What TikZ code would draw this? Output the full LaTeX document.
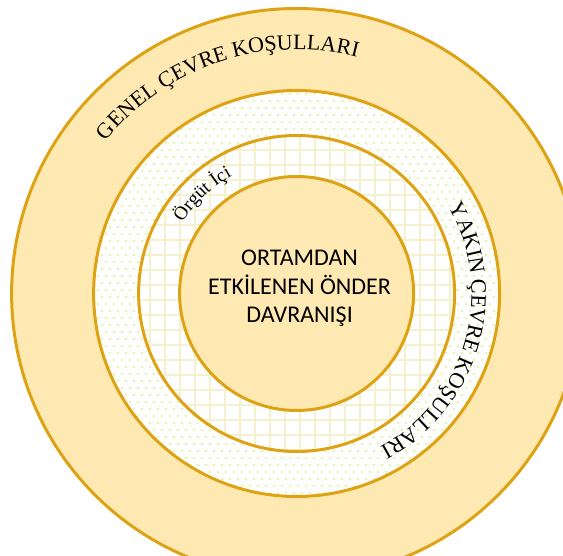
\documentclass[tikz,border=0pt]{standalone}
\usepackage{fontspec}
\setmainfont{Liberation Serif}
\newfontfamily\carlito{Carlito}
\usetikzlibrary{decorations.text}
\definecolor{ringgold}{RGB}{221,163,20}
\definecolor{ringfill}{RGB}{255,233,178}
\definecolor{gridyellow}{RGB}{243,241,206}
\definecolor{dotgreen}{RGB}{228,243,160}

\begin{document}
\begin{tikzpicture}[x=1pt,y=1pt,
  ring/.style={circle,draw=ringgold,line width=3,inner sep=0pt},
  arctext/.style={decorate,decoration={text along path,text align=center,text={#1}}}
]
  \useasboundingbox (0,0) rectangle (563,555);
  \coordinate (C) at (296.6,261.5);
  % backgrounds of the rings
  \fill[ringfill] (C) circle (285);
  \fill[white] (C) circle (203);
  \begin{scope}
    \clip (C) circle (203);
    \foreach \i in {0,...,59}
      \foreach \j in {0,...,51}
        \fill[dotgreen] ({90+\j*8+mod(\i,2)*4},{55+\i*7}) circle (1.3);
  \end{scope}
  \fill[white] (C) circle (158);
  \begin{scope}
    \clip (C) circle (158);
    \draw[gridyellow,line width=2] (130,95) grid[step=15] (465,430);
  \end{scope}
  % circles
  \node[ring,minimum size=570] (genel) at (C) {};
  \node[ring,minimum size=406] (yakin) at (C) {};
  \node[ring,minimum size=316] (orgut) at (C) {};
  \node[ring,fill=ringfill,minimum size=234] (onder) at (C) {};
  \node[font=\carlito\fontsize{24}{28.3}\selectfont,align=center] (onderyazi)
    at ([shift={(3,5)}]C) {ORTAMDAN\\ETKİLENEN ÖNDER\\DAVRANIŞI};
  % curved labels
  \path[arctext={|\fontsize{22}{26}\selectfont|GENEL ÇEVRE KOŞULLARI}]
    ([shift={(141:244)}]C) arc[start angle=141,end angle=76,radius=244];
  \path[arctext={|\fontsize{22}{26}\selectfont|YAKIN ÇEVRE KOŞULLARI}]
    ([shift={(31:175)}]C) arc[start angle=31,end angle=-63,radius=175];
  \path[arctext={|\fontsize{19}{22}\selectfont|Örgüt İçi}]
    ([shift={(152:134)}]C) arc[start angle=152,end angle=115,radius=134];
\end{tikzpicture}
\end{document}
